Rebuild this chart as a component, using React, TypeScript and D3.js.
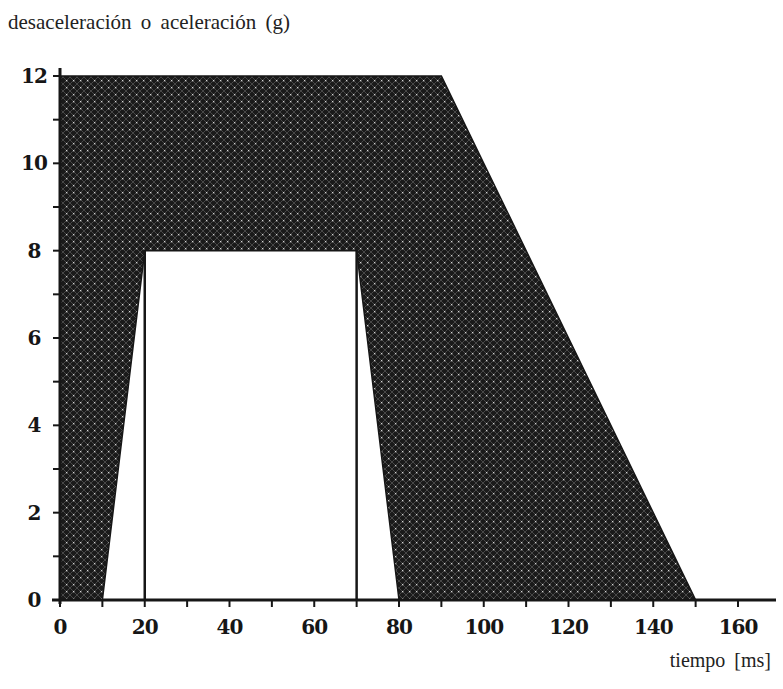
import React from 'react';
import * as d3 from 'd3';

// corridor limits (time in ms, deceleration in g)
const outerTime = [0, 0, 90, 150];
const outerG = [0, 12, 12, 0];
const innerTime = [10, 20, 70, 80];
const innerG = [0, 8, 8, 0];
const markerTimes = [20, 70];
const markerTop = 8;

const xTickLabels = [0, 20, 40, 60, 80, 100, 120, 140, 160];
const yTickLabels = [0, 2, 4, 6, 8, 10, 12];
const xMinor = d3.range(0, 170, 10);
const yMinor = d3.range(0, 13, 1);

const W = 783;
const H = 689;

const serif = { fontFamily: '"Liberation Serif", "DejaVu Serif", serif', wordSpacing: '4px' };
const tickFont = { fontFamily: '"DejaVu Serif", serif', letterSpacing: '-1px' };

export default function App() {
  const x = d3.scaleLinear().domain([0, 160]).range([60, 738]);
  const y = d3.scaleLinear().domain([0, 12]).range([600, 76]);

  const line = d3.line<[number, number]>()
    .x(d => x(d[0]))
    .y(d => y(d[1]))
    .curve(d3.curveLinearClosed);

  const outer = line(outerTime.map((t, i) => [t, outerG[i]] as [number, number]));
  const inner = line(innerTime.map((t, i) => [t, innerG[i]] as [number, number]));

  const ink = '#161616';

  return (
    <svg width={W} height={H} style={{ position: 'absolute', left: 0, top: 0, background: '#fff' }}>
      <defs>
        <pattern id="hatch" width={7} height={7} patternUnits="userSpaceOnUse">
          <rect width={7} height={7} fill="#1a1a1a" />
          <path d="M0,0 L7,7 M7,0 L0,7" stroke="#474747" strokeWidth={1} />
          <rect x={3} y={3} width={1.3} height={1.3} fill="#d5d5d5" />
        </pattern>
      </defs>

      <text x={8} y={29} fontSize={21} fill="#222" style={serif}>
        desaceleración o aceleración (g)
      </text>

      <path d={`${outer}${inner}`} fill="url(#hatch)" fillRule="evenodd" stroke={ink} strokeWidth={1.5} />

      {markerTimes.map(t => (
        <line key={t} x1={x(t)} x2={x(t)} y1={y(0)} y2={y(markerTop)} stroke={ink} strokeWidth={2.5} />
      ))}

      {/* axes */}
      <line x1={52} x2={776} y1={y(0)} y2={y(0)} stroke={ink} strokeWidth={3} />
      <line x1={x(0)} x2={x(0)} y1={y(0) + 4} y2={y(12) - 8} stroke={ink} strokeWidth={3} />

      {xMinor.map(v => (
        <line key={'xm' + v} x1={x(v)} x2={x(v)} y1={y(0)} y2={y(0) + 7} stroke={ink} strokeWidth={2} />
      ))}
      {yMinor.map(v => (
        <line key={'ym' + v} x1={x(0) - 7} x2={x(0)} y1={y(v)} y2={y(v)} stroke={ink} strokeWidth={2} />
      ))}

      {xTickLabels.map(v => (
        <text key={'xl' + v} x={x(v)} y={y(0) + 34} textAnchor="middle" fontWeight="bold" fontSize={20}
          fill={ink} style={tickFont}>
          {v}
        </text>
      ))}
      {yTickLabels.map(v => (
        <text key={'yl' + v} x={34} y={y(v) + 7} textAnchor="middle" fontWeight="bold" fontSize={20}
          fill={ink} style={tickFont}>
          {v}
        </text>
      ))}

      <text x={771} y={667} textAnchor="end" fontSize={20} fill="#222" style={serif}>
        tiempo [ms]
      </text>
    </svg>
  );
}
